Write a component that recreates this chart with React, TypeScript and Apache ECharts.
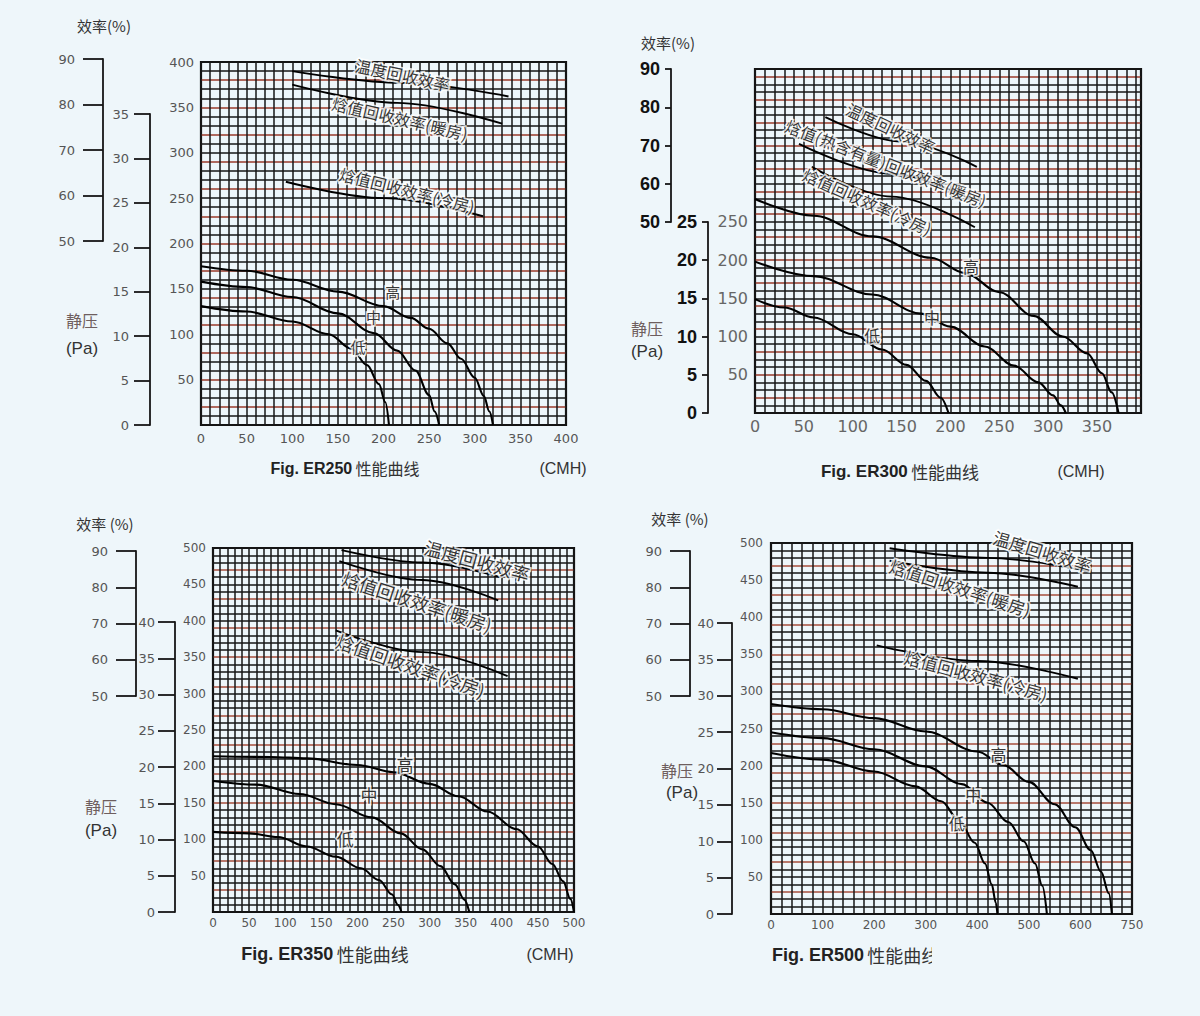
import React, { useEffect, useRef } from 'react';
import * as echarts from 'echarts';

// ===================== DATA =====================
// Common label texts
const LABEL_TEMP = '温度回收效率';
const LABEL_HEAT = '焓值回收效率(暖房)';
const LABEL_HEAT_300 = '焓值(热含有量)回收效率(暖房)';
const LABEL_COOL = '焓值回收效率(冷房)';
const SPEED_NAMES = ['高', '中', '低'];

// ---- ER250 ----
const ER250_X_TICKS = [0, 50, 100, 150, 200, 250, 300, 350, 400];
const ER250_Y_TICKS = [50, 100, 150, 200, 250, 300, 350, 400];
const ER250_EFF_TICKS = [50, 60, 70, 80, 90];
const ER250_PA_TICKS = [0, 5, 10, 15, 20, 25, 30, 35];
const ER250_HIGH = [[0, 175], [50, 170], [100, 160], [150, 147], [200, 131], [230, 118], [250, 106], [270, 90], [285, 73], [300, 52], [310, 32], [316, 15], [320, 0]];
const ER250_MID = [[0, 158], [50, 152], [100, 141], [150, 123], [190, 101], [215, 82], [235, 60], [250, 33], [256, 15], [261, 0]];
const ER250_LOW = [[0, 131], [50, 125], [100, 114], [140, 100], [165, 84], [182, 66], [195, 45], [202, 25], [206, 0]];
const ER250_TEMP_EFF = [[100, 390], [220, 377], [337, 362]];
const ER250_ENTH_HEAT = [[100, 375], [215, 355], [330, 332]];
const ER250_ENTH_COOL = [[93, 268], [200, 250], [309, 230]];

// ---- ER300 ----
const ER300_X_TICKS = [0, 50, 100, 150, 200, 250, 300, 350];
const ER300_Y_TICKS = [50, 100, 150, 200, 250];
const ER300_EFF_TICKS = [50, 60, 70, 80, 90];
const ER300_PA_TICKS = [0, 5, 10, 15, 20, 25];
const ER300_HIGH = [[0, 280], [60, 258], [120, 231], [180, 203], [215, 183], [250, 158], [285, 127], [315, 100], [340, 78], [355, 52], [365, 27], [372, 0]];
const ER300_MID = [[0, 198], [60, 179], [120, 155], [170, 130], [200, 113], [235, 87], [265, 62], [290, 40], [305, 23], [313, 10], [318, 0]];
const ER300_LOW = [[0, 149], [30, 138], [60, 125], [100, 103], [130, 83], [155, 63], [175, 42], [190, 20], [198, 0]];
const ER300_TEMP_EFF = [[72, 387], [150, 355], [227, 322]];
const ER300_ENTH_HEAT = [[45, 352], [140, 313], [227, 276]];
const ER300_ENTH_COOL = [[58, 322], [140, 283], [225, 243]];

// ---- ER350 ----
const ER350_X_TICKS = [0, 50, 100, 150, 200, 250, 300, 350, 400, 450, 500];
const ER350_Y_TICKS = [50, 100, 150, 200, 250, 300, 350, 400, 450, 500];
const ER350_EFF_TICKS = [50, 60, 70, 80, 90];
const ER350_PA_TICKS = [0, 5, 10, 15, 20, 25, 30, 35, 40];
const ER350_HIGH = [[0, 214], [80, 213], [130, 211], [200, 202], [250, 192], [300, 176], [340, 159], [380, 138], [420, 114], [450, 90], [470, 66], [485, 42], [495, 18], [500, 0]];
const ER350_MID = [[0, 180], [60, 175], [120, 162], [170, 148], [220, 130], [260, 108], [290, 86], [315, 63], [335, 38], [348, 17], [355, 0]];
const ER350_LOW = [[0, 110], [50, 108], [90, 103], [130, 90], [170, 76], [205, 60], [230, 44], [248, 24], [256, 10], [261, 0]];
const ER350_TEMP_EFF = [[178, 497], [290, 480], [398, 460]];
const ER350_ENTH_HEAT = [[175, 482], [290, 456], [395, 428]];
const ER350_ENTH_COOL = [[170, 387], [290, 357], [408, 324]];

// ---- ER500 ----
const ER500_X_TICK_POS = [0, 100, 200, 300, 400, 500, 600, 700];
const ER500_X_TICK_TEXT = ['0', '100', '200', '300', '400', '500', '600', '750'];
const ER500_Y_TICKS = [50, 100, 150, 200, 250, 300, 350, 400, 450, 500];
const ER500_EFF_TICKS = [50, 60, 70, 80, 90];
const ER500_PA_TICKS = [0, 5, 10, 15, 20, 25, 30, 35, 40];
const ER500_HIGH = [[0, 283], [100, 276], [200, 264], [300, 246], [400, 219], [450, 201], [500, 178], [550, 148], [590, 117], [620, 86], [640, 57], [655, 28], [661, 0]];
const ER500_MID = [[0, 245], [100, 237], [200, 222], [300, 199], [370, 175], [420, 150], [460, 124], [490, 98], [512, 68], [526, 38], [535, 0]];
const ER500_LOW = [[0, 217], [100, 208], [200, 192], [280, 172], [330, 152], [365, 126], [395, 96], [415, 68], [428, 40], [436, 15], [439, 0]];
const ER500_TEMP_EFF = [[230, 493], [420, 480], [617, 462]];
const ER500_ENTH_HEAT = [[230, 476], [420, 460], [595, 441]];
const ER500_ENTH_COOL = [[205, 362], [400, 341], [595, 317]];

// ===================== LAYOUT / STYLE =====================
const BG = '#eef6fa';
const INK = '#161616';
const RED = '#9a3a2a';
const RED2 = '#a64e3c';
const NUM_FONT = 'DejaVu Sans';
const CJK_FONT = 'Noto Sans CJK SC';

const PANELS: any[] = [
  {
    title: 'Fig. ER250', titleSize: 16, titlePos: [345, 468], titleAlign: 'center', cmhPos: [563, 468],
    main: { left: 201, top: 62, width: 365, height: 363 },
    xMax: 400, xStep: 10, yMax: 400, yStep: 10,
    xTicks: ER250_X_TICKS, xText: null, yTicks: ER250_Y_TICKS,
    mainFont: { size: 13, color: '#555', weight: 'normal', family: NUM_FONT },
    xMargin: 7, yMargin: 7, gridWidth: 1.5,
    effTicks: ER250_EFF_TICKS, eff: { x: 103, top: 59, bottom: 241, tick: 20, margin: 28 },
    paTicks: ER250_PA_TICKS, pa: { x: 150, top: 114, bottom: 425, tick: 16, margin: 21 },
    auxFont: { size: 13, color: '#555', weight: 'normal', family: NUM_FONT },
    effText: ['效率(%)', 104, 25], jyPos: [82, 320], paPos: [82, 348],
    redCycle: [INK, INK, RED],
    curves: [ER250_HIGH, ER250_MID, ER250_LOW, ER250_TEMP_EFF, ER250_ENTH_HEAT, ER250_ENTH_COOL],
    notes: [
      { t: LABEL_TEMP, x: 221, y: 386, r: -12, s: 16 },
      { t: LABEL_HEAT, x: 218, y: 338, r: -13, s: 16 },
      { t: LABEL_COOL, x: 226, y: 259, r: -14, s: 16 },
      { t: SPEED_NAMES[0], x: 210, y: 147, r: 0, s: 15 },
      { t: SPEED_NAMES[1], x: 189, y: 120, r: 0, s: 15 },
      { t: SPEED_NAMES[2], x: 172, y: 87, r: 0, s: 15 },
    ],
  },
  {
    title: 'Fig. ER300', titleSize: 17, titlePos: [900, 471], titleAlign: 'center', cmhPos: [1081, 471],
    main: { left: 755, top: 69, width: 386, height: 344 },
    xMax: 395, xStep: 10, yMax: 450, yStep: 10,
    xTicks: ER300_X_TICKS, xText: null, yTicks: ER300_Y_TICKS,
    mainFont: { size: 16, color: '#666', weight: 'normal', family: NUM_FONT },
    xMargin: 5, yMargin: 7, gridWidth: 1.5,
    effTicks: ER300_EFF_TICKS, eff: { x: 671, top: 69, bottom: 222, tick: 6, margin: 11 },
    paTicks: ER300_PA_TICKS, pa: { x: 708, top: 222, bottom: 413, tick: 6, margin: 11 },
    auxFont: { size: 18, color: '#111', weight: 'bold', family: 'Liberation Sans' },
    effText: ['效率(%)', 668, 42], jyPos: [647, 328], paPos: [647, 351],
    redCycle: [INK, INK, RED],
    curves: [ER300_HIGH, ER300_MID, ER300_LOW, ER300_TEMP_EFF, ER300_ENTH_HEAT, ER300_ENTH_COOL],
    notes: [
      { t: LABEL_TEMP, x: 139, y: 373, r: -25, s: 16 },
      { t: LABEL_HEAT_300, x: 134, y: 327, r: -21, s: 16 },
      { t: LABEL_COOL, x: 115, y: 277, r: -24, s: 16 },
      { t: SPEED_NAMES[0], x: 221, y: 192, r: 0, s: 16 },
      { t: SPEED_NAMES[1], x: 181, y: 126, r: 0, s: 16 },
      { t: SPEED_NAMES[2], x: 120, y: 102, r: 0, s: 16 },
    ],
  },
  {
    title: 'Fig. ER350', titleSize: 18, titlePos: [325, 954], titleAlign: 'center', cmhPos: [550, 954],
    main: { left: 213, top: 548, width: 361, height: 364 },
    xMax: 500, xStep: 10, yMax: 500, yStep: 10,
    xTicks: ER350_X_TICKS, xText: null, yTicks: ER350_Y_TICKS,
    mainFont: { size: 12, color: '#555', weight: 'normal', family: NUM_FONT },
    xMargin: 5, yMargin: 7, gridWidth: 1.5,
    effTicks: ER350_EFF_TICKS, eff: { x: 136, top: 551, bottom: 696, tick: 20, margin: 28 },
    paTicks: ER350_PA_TICKS, pa: { x: 175, top: 622, bottom: 912, tick: 17, margin: 20 },
    auxFont: { size: 13, color: '#555', weight: 'normal', family: NUM_FONT },
    effText: ['效率 (%)', 105, 523], jyPos: [101, 806], paPos: [101, 830],
    redCycle: [INK, INK, INK, RED2],
    curves: [ER350_HIGH, ER350_MID, ER350_LOW, ER350_TEMP_EFF, ER350_ENTH_HEAT, ER350_ENTH_COOL],
    notes: [
      { t: LABEL_TEMP, x: 366, y: 483, r: -15, s: 18 },
      { t: LABEL_HEAT, x: 283, y: 427, r: -18, s: 18 },
      { t: LABEL_COOL, x: 274, y: 339, r: -19, s: 18 },
      { t: SPEED_NAMES[0], x: 266, y: 203, r: 0, s: 17 },
      { t: SPEED_NAMES[1], x: 216, y: 162, r: 0, s: 17 },
      { t: SPEED_NAMES[2], x: 183, y: 101, r: 0, s: 17 },
    ],
  },
  {
    title: 'Fig. ER500', titleSize: 18, titlePos: [772, 955], titleAlign: 'left', cmhPos: null,
    main: { left: 771, top: 543, width: 361, height: 371 },
    xMax: 700, xStep: 20, yMax: 500, yStep: 10,
    xTicks: ER500_X_TICK_POS, xText: ER500_X_TICK_TEXT, yTicks: ER500_Y_TICKS,
    mainFont: { size: 12, color: '#555', weight: 'normal', family: NUM_FONT },
    xMargin: 5, yMargin: 8, gridWidth: 1.5,
    effTicks: ER500_EFF_TICKS, eff: { x: 690, top: 551, bottom: 696, tick: 20, margin: 28 },
    paTicks: ER500_PA_TICKS, pa: { x: 732, top: 623, bottom: 914, tick: 15, margin: 18 },
    auxFont: { size: 13, color: '#555', weight: 'normal', family: NUM_FONT },
    effText: ['效率 (%)', 680, 518], jyPos: [677, 770], paPos: [682, 792],
    redCycle: [INK, INK, INK, RED2],
    curves: [ER500_HIGH, ER500_MID, ER500_LOW, ER500_TEMP_EFF, ER500_ENTH_HEAT, ER500_ENTH_COOL],
    notes: [
      { t: LABEL_TEMP, x: 527, y: 489, r: -17, s: 17 },
      { t: LABEL_HEAT, x: 367, y: 440, r: -18, s: 17 },
      { t: LABEL_COOL, x: 398, y: 322, r: -15, s: 17 },
      { t: SPEED_NAMES[0], x: 441, y: 215, r: 0, s: 16 },
      { t: SPEED_NAMES[1], x: 392, y: 162, r: 0, s: 16 },
      { t: SPEED_NAMES[2], x: 360, y: 122, r: 0, s: 16 },
    ],
  },
];

function tickFormatter(pos: number[], text: string[] | null) {
  return (v: number) => {
    const i = pos.findIndex((p) => Math.abs(p - v) < 1e-6);
    if (i < 0) return '';
    return text ? text[i] : String(pos[i]);
  };
}

function buildOption() {
  const grid: any[] = [];
  const xAxis: any[] = [];
  const yAxis: any[] = [];
  const series: any[] = [];
  const graphic: any[] = [];

  PANELS.forEach((p) => {
    // ---- main plot ----
    const gm = grid.length;
    grid.push({ ...p.main, show: true, borderColor: '#101010', borderWidth: 2.2, backgroundColor: 'transparent' });
    const lblStyle = {
      color: p.mainFont.color, fontSize: p.mainFont.size, fontWeight: p.mainFont.weight,
      fontFamily: p.mainFont.family,
    };
    xAxis.push({
      gridIndex: gm, type: 'value', min: 0, max: p.xMax, interval: p.xStep,
      axisLine: { show: false }, axisTick: { show: false },
      splitLine: { show: true, lineStyle: { color: INK, width: p.gridWidth } },
      axisLabel: { ...lblStyle, margin: p.xMargin, formatter: tickFormatter(p.xTicks, p.xText), hideOverlap: false },
    });
    yAxis.push({
      gridIndex: gm, type: 'value', min: 0, max: p.yMax, interval: p.yStep,
      axisLine: { show: false }, axisTick: { show: false },
      splitLine: { show: true, lineStyle: { color: p.redCycle, width: p.gridWidth } },
      axisLabel: { ...lblStyle, margin: p.yMargin, formatter: tickFormatter(p.yTicks, null), hideOverlap: false },
    });

    // ---- auxiliary scales ----
    const aux = (ticks: number[], cfg: any) => {
      const gi = grid.length;
      grid.push({ left: cfg.x, top: cfg.top, width: 1, height: cfg.bottom - cfg.top });
      xAxis.push({ gridIndex: gi, type: 'value', show: false, min: 0, max: 1 });
      yAxis.push({
        gridIndex: gi, type: 'value', position: 'left',
        min: ticks[0], max: ticks[ticks.length - 1], interval: ticks[1] - ticks[0],
        axisLine: { show: true, onZero: false, lineStyle: { color: INK, width: 1.8 } },
        axisTick: { show: true, length: cfg.tick, lineStyle: { color: INK, width: 1.8 } },
        splitLine: { show: false },
        axisLabel: {
          margin: cfg.margin, color: p.auxFont.color, fontSize: p.auxFont.size,
          fontWeight: p.auxFont.weight, fontFamily: p.auxFont.family,
        },
      });
    };
    aux(p.effTicks, p.eff);
    aux(p.paTicks, p.pa);

    // ---- curves ----
    p.curves.forEach((data: number[][], ci: number) => {
      series.push({
        type: 'line', xAxisIndex: gm, yAxisIndex: gm, data,
        smooth: 0.35, smoothMonotone: 'x', showSymbol: false, symbol: 'none', silent: true,
        lineStyle: { color: '#000', width: ci < 3 ? 2.1 : 1.9 }, z: 3,
      });
    });

    // ---- curve annotations ----
    series.push({
      type: 'scatter', xAxisIndex: gm, yAxisIndex: gm, symbolSize: 0, silent: true, z: 6, clip: false,
      label: {
        show: true, position: 'inside', color: '#000', fontFamily: CJK_FONT,
        textBorderColor: '#ffffff', textBorderWidth: 3.5,
      },
      data: p.notes.map((n: any) => ({
        value: [n.x, n.y],
        label: { formatter: n.t, rotate: n.r, fontSize: n.s },
      })),
    });

    // ---- static texts ----
    graphic.push({
      type: 'text', x: p.effText[1], y: p.effText[2],
      style: { text: p.effText[0], fill: '#333', font: `15px "${CJK_FONT}"`, align: 'center', verticalAlign: 'middle' },
    });
    graphic.push({
      type: 'text', x: p.jyPos[0], y: p.jyPos[1],
      style: { text: '静压', fill: '#6e5e5e', font: `16px "${CJK_FONT}"`, align: 'center', verticalAlign: 'middle' },
    });
    graphic.push({
      type: 'text', x: p.paPos[0], y: p.paPos[1],
      style: { text: '(Pa)', fill: '#333', font: `17px "Liberation Sans"`, align: 'center', verticalAlign: 'middle' },
    });
    graphic.push({
      type: 'text', x: p.titlePos[0], y: p.titlePos[1],
      style: {
        text: `{a|${p.title}} {b|性能曲线}`,
        align: p.titleAlign, verticalAlign: 'middle',
        rich: {
          a: { fontFamily: 'Liberation Sans', fontWeight: 'bold', fontSize: p.titleSize, fill: '#222' },
          b: { fontFamily: CJK_FONT, fontSize: p.titleSize, fill: '#333' },
        },
      },
    });
    if (p.cmhPos) {
      graphic.push({
        type: 'text', x: p.cmhPos[0], y: p.cmhPos[1],
        style: { text: '(CMH)', fill: '#333', font: `16px "Liberation Sans"`, align: 'center', verticalAlign: 'middle' },
      });
    }
  });

  // the scanned ER500 caption is cut off at its last character
  graphic.push({ type: 'rect', shape: { x: 932, y: 940, width: 20, height: 30 }, style: { fill: BG }, z: 100 });

  return {
    animation: false,
    backgroundColor: BG,
    grid, xAxis, yAxis, series, graphic,
  };
}

export default function App() {
  const ref = useRef<HTMLDivElement>(null);
  useEffect(() => {
    const chart = echarts.init(ref.current as HTMLDivElement, null, { renderer: 'svg' });
    chart.setOption(buildOption() as any);
    return () => chart.dispose();
  }, []);
  return (
    <div
      ref={ref}
      style={{ position: 'absolute', left: 0, top: 0, width: 1200, height: 1016 }}
    />
  );
}
